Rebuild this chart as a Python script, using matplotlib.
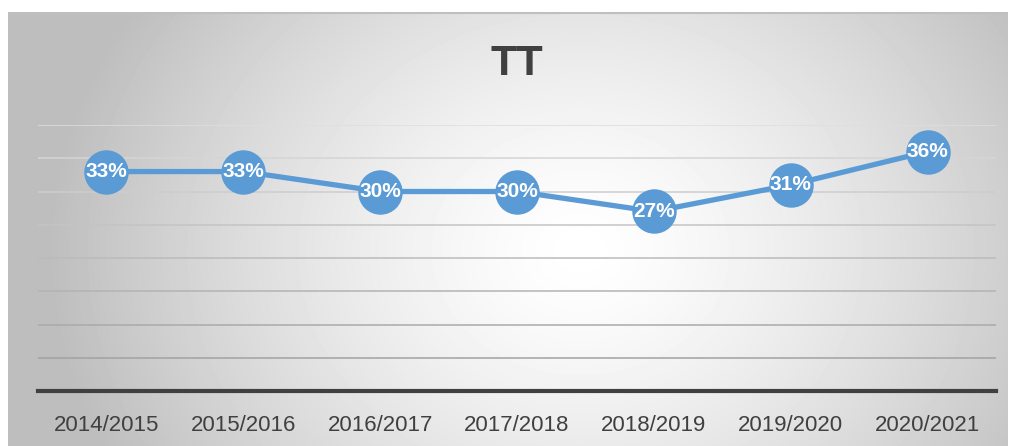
import numpy as np
import matplotlib.pyplot as plt

# data
seasons = ['2014/2015', '2015/2016', '2016/2017', '2017/2018',
           '2018/2019', '2019/2020', '2020/2021']
tt_pct = [33, 33, 30, 30, 27, 31, 36]

W, H = 1011, 446
fig = plt.figure(figsize=(W / 100, H / 100), dpi=100)
fig.patch.set_facecolor('white')

# chart area with radial gray gradient
bg = fig.add_axes([8 / W, 0, 1000 / W, (H - 12) / H])
xx, yy = np.meshgrid(np.arange(1000) + 8, np.arange(H - 12) + 12)
r = np.sqrt(((xx - 580) / 500.0) ** 2 + ((yy - 250) / 420.0) ** 2)
val = np.clip(255 - 60 * r ** 1.4, 190, 255) / 255.0
bg.imshow(val, cmap='gray', vmin=0, vmax=1, aspect='auto',
          interpolation='bilinear')
bg.axhline(0, color='#bfbfbf', lw=1.5)
bg.set_axis_off()

ax = fig.add_axes([38 / W, (H - 391) / H, 958 / W, 266 / H])
ax.patch.set_alpha(0)
x = np.arange(len(seasons))
ax.set_xlim(-0.5, len(seasons) - 0.5)
ax.set_ylim(0, 40)

# gridlines get darker towards the bottom
grid_vals = [5, 10, 15, 20, 25, 30, 35, 40]
for g in grid_vals:
    t = g / 40.0
    c = 0.60 + 0.27 * t
    ax.axhline(g, color=(c, c, c), lw=1.1, zorder=1)

ax.plot(x, tt_pct, color='#5b9bd5', lw=3.8, marker='o', ms=32,
        markeredgewidth=0, zorder=3)
for xi, v in zip(x, tt_pct):
    ax.text(xi, v, f'{v}%', ha='center', va='center', color='white',
            fontsize=15, fontweight='bold', family='Liberation Sans',
            zorder=4)

for s in ['top', 'right', 'left']:
    ax.spines[s].set_visible(False)
ax.spines['bottom'].set_color('#404040')
ax.spines['bottom'].set_linewidth(3)
ax.set_yticks([])
ax.set_xticks(x)
ax.set_xticklabels(seasons, fontsize=16, color='#404040',
                   family='Liberation Sans')
ax.tick_params(axis='x', length=0, pad=17)

fig.text(517 / W, 1 - 64 / H, 'TT', ha='center', va='center',
         fontsize=31, fontweight='bold', color='#404040',
         family='Liberation Sans')

fig.savefig('out.png', dpi=100)
